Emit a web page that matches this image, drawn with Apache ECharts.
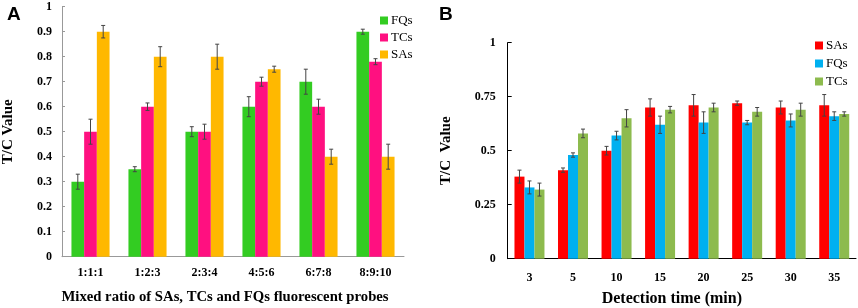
<!DOCTYPE html>
<html>
<head>
<meta charset="utf-8">
<script src="https://cdn.jsdelivr.net/npm/echarts@6/dist/echarts.min.js"></script>
<style>
  html, body { margin: 0; padding: 0; background: #fff; }
  #chart { width: 858px; height: 308px; }
</style>
</head>
<body>
<div id="chart"></div>
<script>
// 面板 A：混合比例
const ratioCats = ['1:1:1', '1:2:3', '2:3:4', '4:5:6', '6:7:8', '8:9:10'];
const aFQs = [0.30, 0.35, 0.50, 0.60, 0.70, 0.90];
const aFQsErr = [0.03, 0.01, 0.02, 0.04, 0.05, 0.01];
const aTCs = [0.50, 0.60, 0.50, 0.70, 0.60, 0.78];
const aTCsErr = [0.05, 0.015, 0.03, 0.018, 0.03, 0.012];
const aSAs = [0.90, 0.80, 0.80, 0.75, 0.40, 0.40];
const aSAsErr = [0.025, 0.04, 0.05, 0.012, 0.03, 0.05];

// 面板 B：检测时间
const timeCats = ['3', '5', '10', '15', '20', '25', '30', '35'];
const bSAs = [0.38, 0.41, 0.50, 0.70, 0.71, 0.72, 0.70, 0.71];
const bSAsErr = [0.03, 0.01, 0.02, 0.04, 0.05, 0.01, 0.03, 0.05];
const bFQs = [0.33, 0.48, 0.57, 0.62, 0.63, 0.63, 0.64, 0.66];
const bFQsErr = [0.03, 0.01, 0.02, 0.04, 0.05, 0.01, 0.03, 0.02];
const bTCs = [0.32, 0.58, 0.65, 0.69, 0.70, 0.68, 0.69, 0.67];
const bTCsErr = [0.03, 0.02, 0.04, 0.015, 0.02, 0.02, 0.03, 0.01];

const serif = 'Liberation Serif';
const BW_A = 12.7;
const BW_B = 10;

const bar = (name, data, color, idx, bw) => ({
  name,
  type: 'bar',
  xAxisIndex: idx,
  yAxisIndex: idx,
  barWidth: bw,
  barGap: '0%',
  itemStyle: { color },
  data,
});

// 误差线：根据柱子序号计算偏移
const errBar = (vals, errs, idx, pos, bw) => ({
  type: 'custom',
  xAxisIndex: idx,
  yAxisIndex: idx,
  silent: true,
  z: 5,
  data: vals.map((v, i) => [i, v, errs[i]]),
  renderItem: (params, api) => {
    const c = api.value(0);
    const v = api.value(1);
    const e = api.value(2);
    const off = (pos - 1) * bw;
    const top = api.coord([c, v + e]);
    const bot = api.coord([c, v - e]);
    const x = top[0] + off;
    const style = { stroke: '#444', lineWidth: 1 };
    return {
      type: 'group',
      children: [
        { type: 'line', shape: { x1: x, y1: top[1], x2: x, y2: bot[1] }, style },
        { type: 'line', shape: { x1: x - 2, y1: top[1], x2: x + 2, y2: top[1] }, style },
        { type: 'line', shape: { x1: x - 2, y1: bot[1], x2: x + 2, y2: bot[1] }, style },
      ],
    };
  },
});

const tickLabel = { fontFamily: serif, fontWeight: 'bold', fontSize: 12, color: '#000' };

const myChart = echarts.init(document.getElementById('chart'));

const option = {
  backgroundColor: '#ffffff',
  animation: false,
  title: [
    { text: 'A', left: 2, top: 0, textStyle: { fontFamily: 'Liberation Sans', fontWeight: 'bold', fontSize: 19, color: '#000' } },
    { text: 'B', left: 434, top: 0, textStyle: { fontFamily: 'Liberation Sans', fontWeight: 'bold', fontSize: 19, color: '#000' } },
  ],
  legend: [
    {
      orient: 'vertical',
      left: 375,
      top: 9,
      itemWidth: 8,
      itemHeight: 8,
      itemGap: 4,
      icon: 'rect',
      textStyle: { fontFamily: serif, fontSize: 13, color: '#000', padding: [0, 0, 0, -2] },
      formatter: n => n.split('-')[1],
      data: ['A-FQs', 'A-TCs', 'A-SAs'],
    },
    {
      orient: 'vertical',
      left: 810,
      top: 34,
      itemWidth: 8,
      itemHeight: 8,
      itemGap: 5,
      icon: 'rect',
      textStyle: { fontFamily: serif, fontSize: 13, color: '#000', padding: [0, 0, 0, -2] },
      formatter: n => n.split('-')[1],
      data: ['B-SAs', 'B-FQs', 'B-TCs'],
    },
  ],
  grid: [
    { left: 62, right: 454, top: 6.7, bottom: 51.3, outerBoundsMode: 'none' },
    { left: 507.7, right: 2, top: 42.7, bottom: 49.3, outerBoundsMode: 'none' },
  ],
  xAxis: [
    {
      type: 'category',
      gridIndex: 0,
      data: ratioCats,
      axisLine: { lineStyle: { color: '#999' } },
      axisTick: { show: false },
      axisLabel: { ...tickLabel, margin: 10 },
      name: 'Mixed ratio of SAs, TCs and FQs fluorescent probes',
      nameLocation: 'middle',
      nameGap: 33,
      nameTextStyle: { fontFamily: serif, fontWeight: 'bold', fontSize: 14.7, color: '#000', padding: [0, 16, 0, 0] },
    },
    {
      type: 'category',
      gridIndex: 1,
      data: timeCats,
      axisLine: { lineStyle: { color: '#000', width: 1 } },
      axisTick: { inside: true, length: 3, lineStyle: { color: '#000' } },
      axisLabel: { ...tickLabel, margin: 13 },
      name: 'Detection time (min)',
      nameLocation: 'middle',
      nameGap: 32,
      nameTextStyle: { fontFamily: serif, fontWeight: 'bold', fontSize: 16, color: '#000', letterSpacing: 3.3, padding: [0, 20, 0, 0] },
    },
  ],
  yAxis: [
    {
      type: 'value',
      gridIndex: 0,
      min: 0,
      max: 1,
      interval: 0.1,
      splitLine: { show: false },
      axisLine: { show: true, lineStyle: { color: '#999' } },
      axisTick: { show: true, inside: true, length: 3, lineStyle: { color: '#999' } },
      axisLabel: { ...tickLabel, margin: 10 },
      name: 'T/C Value',
      nameLocation: 'middle',
      nameGap: 46,
      nameTextStyle: { fontFamily: serif, fontWeight: 'bold', fontSize: 15, color: '#000' },
    },
    {
      type: 'value',
      gridIndex: 1,
      min: 0,
      max: 1,
      interval: 0.25,
      splitLine: { show: false },
      axisLine: { show: true, lineStyle: { color: '#000' } },
      axisTick: { show: true, inside: true, length: 4, lineStyle: { color: '#000' } },
      axisLabel: { ...tickLabel, margin: 12 },
      name: 'T/C  Value',
      nameLocation: 'middle',
      nameGap: 54,
      nameTextStyle: { fontFamily: serif, fontWeight: 'bold', fontSize: 15, color: '#000' },
    },
  ],
  series: [
    bar('A-FQs', aFQs, '#33CC22', 0, BW_A),
    bar('A-TCs', aTCs, '#FF1080', 0, BW_A),
    bar('A-SAs', aSAs, '#FFB800', 0, BW_A),
    errBar(aFQs, aFQsErr, 0, 0, BW_A),
    errBar(aTCs, aTCsErr, 0, 1, BW_A),
    errBar(aSAs, aSAsErr, 0, 2, BW_A),
    bar('B-SAs', bSAs, '#FF0000', 1, BW_B),
    bar('B-FQs', bFQs, '#00B0F0', 1, BW_B),
    bar('B-TCs', bTCs, '#8DBB4E', 1, BW_B),
    errBar(bSAs, bSAsErr, 1, 0, BW_B),
    errBar(bFQs, bFQsErr, 1, 1, BW_B),
    errBar(bTCs, bTCsErr, 1, 2, BW_B),
  ],
};

myChart.setOption(option);
</script>
</body>
</html>
